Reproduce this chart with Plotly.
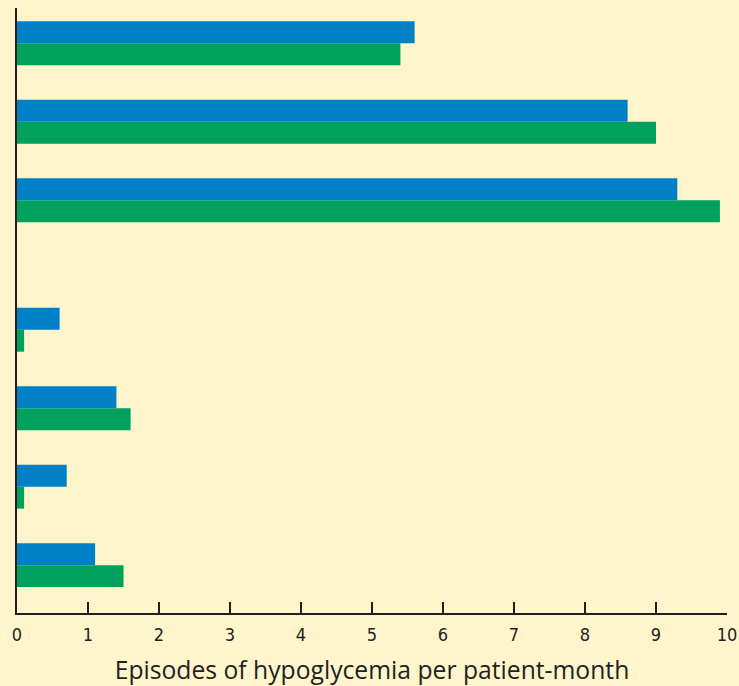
import plotly.graph_objects as go

# Data (top group first)
groups = ["G1", "G2", "G3", "G4", "G5", "G6", "G7"]
blue_vals = [5.6, 8.6, 9.3, 0.6, 1.4, 0.7, 1.1]
green_vals = [5.4, 9.0, 9.9, 0.1, 1.6, 0.1, 1.5]
x_ticks = list(range(0, 11))
x_title = "Episodes of hypoglycemia per patient-month"

# vertical slot positions: bottom four evenly spaced, then a gap before the top three
gap = 0.65
n = len(groups)
ypos = []
for i in range(n):
    k = n - 1 - i  # 0 at bottom
    ypos.append(k + (gap if k >= 4 else 0))

BLUE = "#0080C6"
GREEN = "#00A05D"
BG = "#FEF5CD"
AX = "#231F20"

fig = go.Figure()
fig.add_trace(go.Bar(y=ypos, x=green_vals, orientation="h", marker=dict(color=GREEN, line=dict(width=0)), name="green"))
fig.add_trace(go.Bar(y=ypos, x=blue_vals, orientation="h", marker=dict(color=BLUE, line=dict(width=0)), name="blue"))

fig.update_layout(
    width=739, height=686,
    paper_bgcolor=BG, plot_bgcolor=BG,
    margin=dict(l=17, r=12, t=8, b=73, autoexpand=False),
    barmode="group", bargap=0.44, bargroupgap=0,
    showlegend=False,
    font=dict(family="Open Sans", color=AX),
    xaxis=dict(
        range=[0, 10], tickvals=x_ticks, ticks="inside", ticklen=11, tickwidth=2, tickcolor=AX,
        showline=True, linecolor=AX, linewidth=2, showgrid=False, zeroline=False,
        automargin=False, ticklabelstandoff=4,
        tickfont=dict(size=18, family="DejaVu Sans Condensed, Roboto Condensed, Roboto", color=AX),
        title=dict(text=x_title, font=dict(size=24.7, family="Open Sans", color=AX), standoff=20),
    ),
    yaxis=dict(
        range=[-0.61, 7.1], showticklabels=False, ticks="", showgrid=False, zeroline=False,
        showline=True, linecolor=AX, linewidth=2, automargin=False,
    ),
)

fig.write_html(
    "out.html",
    config={"displayModeBar": False},
    post_script="document.body.style.margin='0';document.body.style.background='%s';" % BG,
)
